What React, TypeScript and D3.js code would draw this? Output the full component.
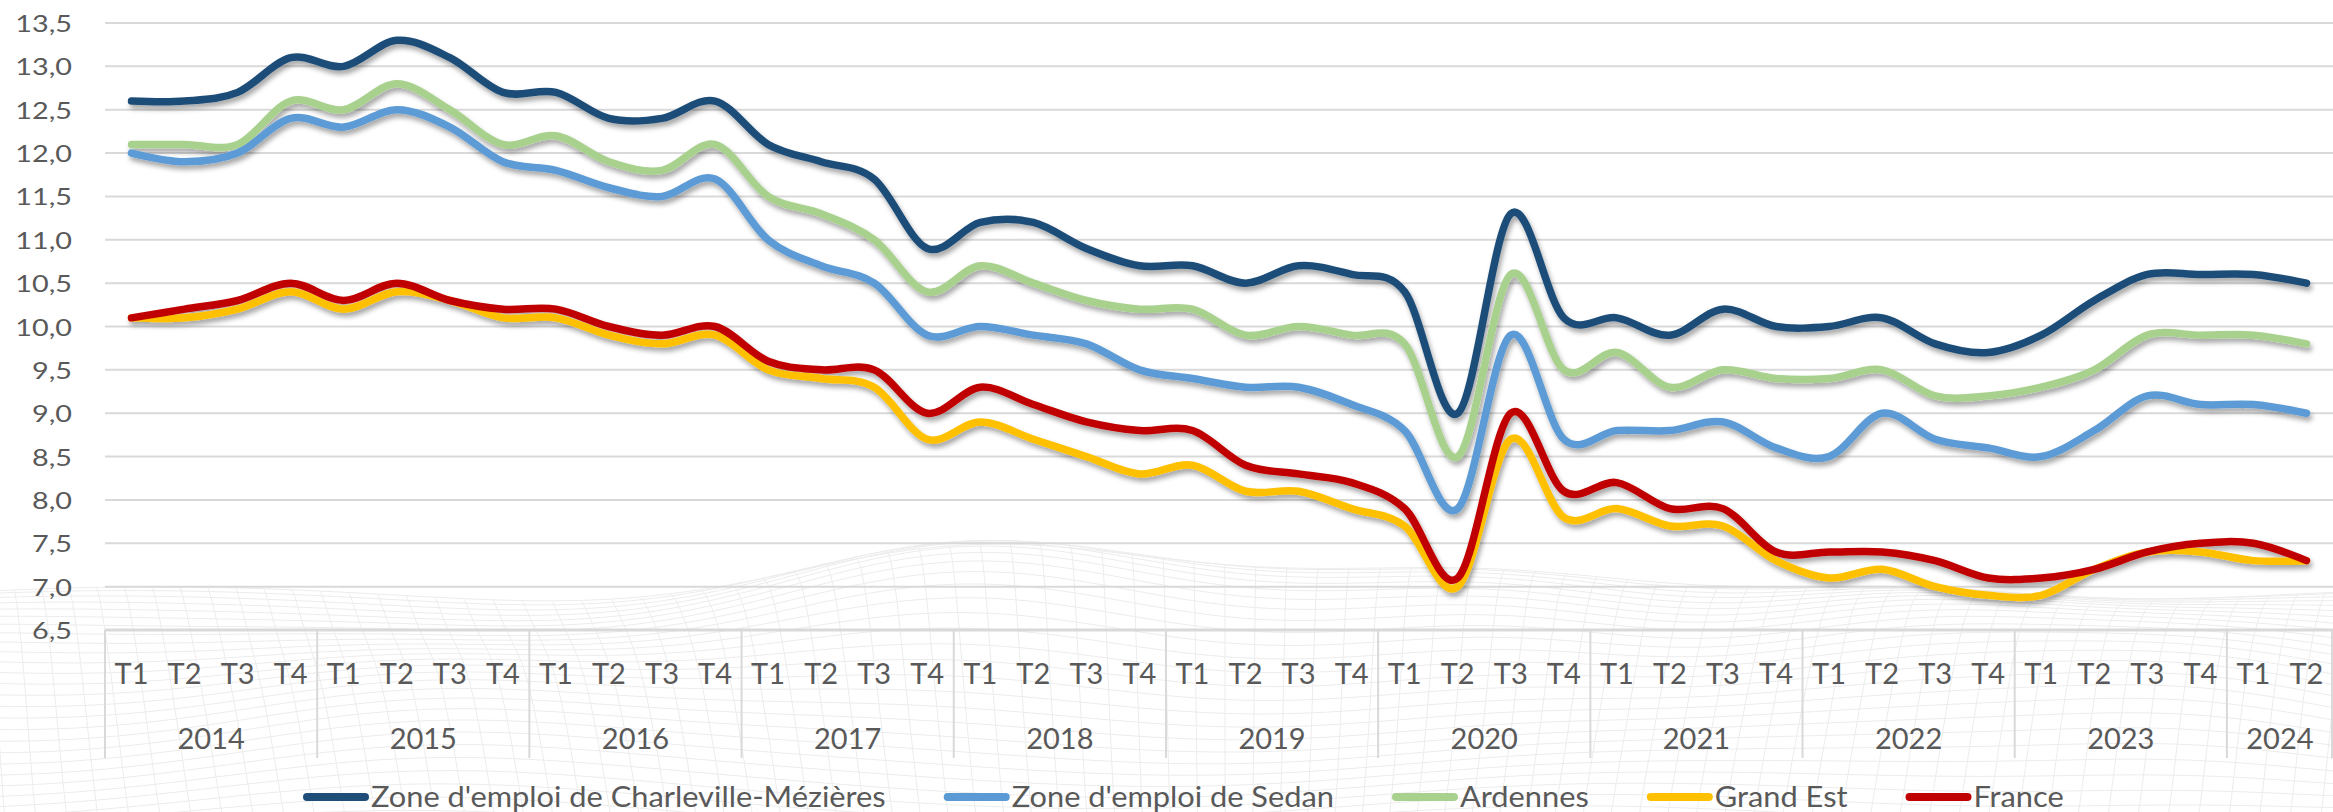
import React, { useEffect, useRef } from "react";
import * as d3 from "d3";

const W = 2333;
const H = 812;

const years = ["2014", "2015", "2016", "2017", "2018", "2019", "2020", "2021", "2022", "2023", "2024"];
const quarterNames = ["T1", "T2", "T3", "T4"];
const quartersPerYear = [4, 4, 4, 4, 4, 4, 4, 4, 4, 4, 2];
const yTicks = [6.5, 7.0, 7.5, 8.0, 8.5, 9.0, 9.5, 10.0, 10.5, 11.0, 11.5, 12.0, 12.5, 13.0, 13.5];

const seriesNames = [
  "Zone d'emploi de Charleville-Mézières",
  "Zone d'emploi de Sedan",
  "Ardennes",
  "Grand Est",
  "France",
];
const seriesColors = ["#1F4E79", "#5B9BD5", "#A9D18E", "#FFC000", "#C00000"];

const charleville = [
  12.6, 12.6, 12.7, 13.1, 13.0, 13.3, 13.1, 12.7, 12.7, 12.4, 12.4, 12.6,
  12.1, 11.9, 11.7, 10.9, 11.2, 11.2, 10.9, 10.7, 10.7, 10.5, 10.7, 10.6,
  10.4, 9.0, 11.3, 10.1, 10.1, 9.9, 10.2, 10.0, 10.0, 10.1, 9.8, 9.7,
  9.9, 10.3, 10.6, 10.6, 10.6, 10.5,
];
const sedan = [
  12.0, 11.9, 12.0, 12.4, 12.3, 12.5, 12.3, 11.9, 11.8, 11.6, 11.5, 11.7,
  11.0, 10.7, 10.5, 9.9, 10.0, 9.9, 9.8, 9.5, 9.4, 9.3, 9.3, 9.1,
  8.8, 7.9, 9.9, 8.7, 8.8, 8.8, 8.9, 8.6, 8.5, 9.0, 8.7, 8.6,
  8.5, 8.8, 9.2, 9.1, 9.1, 9.0,
];
const ardennes = [
  12.1, 12.1, 12.1, 12.6, 12.5, 12.8, 12.5, 12.1, 12.2, 11.9, 11.8, 12.1,
  11.5, 11.3, 11.0, 10.4, 10.7, 10.5, 10.3, 10.2, 10.2, 9.9, 10.0, 9.9,
  9.8, 8.5, 10.6, 9.5, 9.7, 9.3, 9.5, 9.4, 9.4, 9.5, 9.2, 9.2,
  9.3, 9.5, 9.9, 9.9, 9.9, 9.8,
];
const grandEst = [
  10.1, 10.1, 10.2, 10.4, 10.2, 10.4, 10.3, 10.1, 10.1, 9.9, 9.8, 9.9,
  9.5, 9.4, 9.3, 8.7, 8.9, 8.7, 8.5, 8.3, 8.4, 8.1, 8.1, 7.9,
  7.7, 7.0, 8.7, 7.8, 7.9, 7.7, 7.7, 7.3, 7.1, 7.2, 7.0, 6.9,
  6.9, 7.2, 7.4, 7.4, 7.3, 7.3,
];
const france = [
  10.1, 10.2, 10.3, 10.5, 10.3, 10.5, 10.3, 10.2, 10.2, 10.0, 9.9, 10.0,
  9.6, 9.5, 9.5, 9.0, 9.3, 9.1, 8.9, 8.8, 8.8, 8.4, 8.3, 8.2,
  7.9, 7.1, 9.0, 8.1, 8.2, 7.9, 7.9, 7.4, 7.4, 7.4, 7.3, 7.1,
  7.1, 7.2, 7.4, 7.5, 7.5, 7.3,
];
const seriesValues = [charleville, sedan, ardennes, grandEst, france];

const FONT = "Lato, 'Open Sans', sans-serif";
const TEXT_COLOR = "#595959";
const GRID_COLOR = "#D9D9D9";

export default function App() {
  const ref = useRef<SVGSVGElement | null>(null);

  useEffect(() => {
    const svg = d3.select(ref.current);
    svg.selectAll("*").remove();

    const left = 105;
    const right = W;
    const top = 23;
    const bottom = 630;

    const periods: { year: string; q: string; yi: number }[] = [];
    years.forEach((y, yi) => {
      for (let k = 0; k < quartersPerYear[yi]; k++) periods.push({ year: y, q: quarterNames[k], yi });
    });
    const idx = periods.map((_, i) => i);

    const x = d3.scaleBand<number>().domain(idx).range([left, right]).paddingInner(0).paddingOuter(0);
    const y = d3.scaleLinear().domain([6.5, 13.5]).range([bottom, top]);
    const cx = (i: number) => (x(i) as number) + x.bandwidth() / 2;

    const defs = svg.append("defs");
    const f = defs
      .append("filter")
      .attr("id", "shadow")
      .attr("x", "-5%")
      .attr("y", "-20%")
      .attr("width", "110%")
      .attr("height", "140%");
    f.append("feDropShadow")
      .attr("dx", 2)
      .attr("dy", 4)
      .attr("stdDeviation", 2.5)
      .attr("flood-color", "#000")
      .attr("flood-opacity", 0.35);

    svg.append("rect").attr("x", 0).attr("y", 0).attr("width", W).attr("height", H).attr("fill", "#fff");

    // decorative wireframe backdrop (faint), as in the original background picture
    const bumps = [
      { cx: 960, cy: 0.15, a: 70, s: 260 },
      { cx: 1500, cy: 0.3, a: 45, s: 220 },
      { cx: 1900, cy: 0.25, a: 40, s: 200 },
      { cx: 400, cy: 0.55, a: 40, s: 260 },
      { cx: 2200, cy: 0.6, a: 35, s: 220 },
    ];
    const rows = 26;
    const cols = 90;
    const mesh = (u: number, v: number): [number, number] => {
      const xs = -150 + u * (W + 300) + (v - 0.5) * 60 * Math.sin(u * 6);
      let h = 0;
      bumps.forEach((b) => {
        const dx = (xs - b.cx) / b.s;
        const dv = (v - b.cy) / 0.35;
        h += b.a * Math.exp(-(dx * dx + dv * dv));
      });
      const base = 600 + Math.pow(v, 1.25) * 230;
      return [xs, base - h - 12 * Math.sin(u * 14 + v * 5)];
    };
    const meshG = svg.append("g").attr("stroke", "#E4E4E4").attr("stroke-width", 1).attr("fill", "none").attr("opacity", 0.7);
    const lg = d3.line<[number, number]>().curve(d3.curveLinear);
    for (let r = 0; r <= rows; r++) {
      const pts: [number, number][] = [];
      for (let c = 0; c <= cols * 2; c++) pts.push(mesh(c / (cols * 2), r / rows));
      meshG.append("path").attr("d", lg(pts) as string);
    }
    for (let c = 0; c <= cols; c++) {
      const pts: [number, number][] = [];
      for (let r = 0; r <= rows * 2; r++) pts.push(mesh(c / cols, r / (rows * 2)));
      meshG.append("path").attr("d", lg(pts) as string);
    }

    // gridlines
    svg
      .append("g")
      .selectAll("line")
      .data(yTicks.slice(1))
      .join("line")
      .attr("x1", left)
      .attr("x2", right)
      .attr("y1", (d) => y(d))
      .attr("y2", (d) => y(d))
      .attr("stroke", GRID_COLOR)
      .attr("stroke-width", 2);

    // y tick labels
    svg
      .append("g")
      .selectAll("text")
      .data(yTicks)
      .join("text")
      .attr("transform", (d) => `translate(72,${y(d) + 9}) scale(1.2,1)`)
      .attr("text-anchor", "end")
      .attr("font-family", FONT)
      .attr("font-size", 24)
      .attr("fill", TEXT_COLOR)
      .text((d) => d.toFixed(1).replace(".", ","));

    // category axis
    const axisG = svg.append("g");
    axisG
      .append("line")
      .attr("x1", left)
      .attr("x2", right)
      .attr("y1", bottom)
      .attr("y2", bottom)
      .attr("stroke", GRID_COLOR)
      .attr("stroke-width", 3);

    const yearStarts: number[] = [];
    let acc = 0;
    quartersPerYear.forEach((n) => {
      yearStarts.push(acc);
      acc += n;
    });
    const sepX = yearStarts.map((s) => x(s) as number).concat([right - 1]);
    axisG
      .selectAll("line.sep")
      .data(sepX)
      .join("line")
      .attr("class", "sep")
      .attr("x1", (d) => d)
      .attr("x2", (d) => d)
      .attr("y1", bottom)
      .attr("y2", 758)
      .attr("stroke", GRID_COLOR)
      .attr("stroke-width", 2);

    axisG
      .selectAll("text.q")
      .data(periods)
      .join("text")
      .attr("class", "q")
      .attr("x", (_, i) => cx(i))
      .attr("y", 684)
      .attr("text-anchor", "middle")
      .attr("font-family", FONT)
      .attr("font-size", 29)
      .attr("fill", TEXT_COLOR)
      .text((d) => d.q);

    axisG
      .selectAll("text.yr")
      .data(years)
      .join("text")
      .attr("class", "yr")
      .attr("x", (_, i) => {
        const s = yearStarts[i];
        const e = s + quartersPerYear[i] - 1;
        return ((x(s) as number) + (x(e) as number) + x.bandwidth()) / 2;
      })
      .attr("y", 749)
      .attr("text-anchor", "middle")
      .attr("font-family", FONT)
      .attr("font-size", 29)
      .attr("fill", TEXT_COLOR)
      .text((d) => d);

    // lines
    const line = d3
      .line<number>()
      .x((_, i) => cx(i))
      .y((d) => y(d))
      .curve(d3.curveCatmullRom.alpha(0));

    const linesG = svg.append("g").attr("filter", "url(#shadow)");
    seriesValues.forEach((vals, si) => {
      linesG
        .append("path")
        .attr("d", line(vals) as string)
        .attr("fill", "none")
        .attr("stroke", seriesColors[si])
        .attr("stroke-width", 7.5)
        .attr("stroke-linecap", "round")
        .attr("stroke-linejoin", "round");
    });

    // legend
    const legG = svg.append("g");
    let lx = 303;
    const ly = 797;
    const sx = 1.1;
    seriesNames.forEach((name, si) => {
      legG
        .append("line")
        .attr("x1", lx + 4)
        .attr("x2", lx + 62)
        .attr("y1", ly)
        .attr("y2", ly)
        .attr("stroke", seriesColors[si])
        .attr("stroke-width", 8)
        .attr("stroke-linecap", "round");
      const tx = lx + 68;
      const t = legG
        .append("text")
        .attr("transform", `translate(${tx},807) scale(${sx},1)`)
        .attr("font-family", FONT)
        .attr("font-size", 28)
        .attr("fill", TEXT_COLOR)
        .text(name);
      const w = (t.node() as SVGTextElement).getComputedTextLength() * sx;
      lx = tx + w + 58;
    });
  }, []);

  return (
    <svg
      ref={ref}
      width={W}
      height={H}
      viewBox={`0 0 ${W} ${H}`}
      style={{ display: "block", position: "absolute", left: 0, top: 0 }}
    />
  );
}
